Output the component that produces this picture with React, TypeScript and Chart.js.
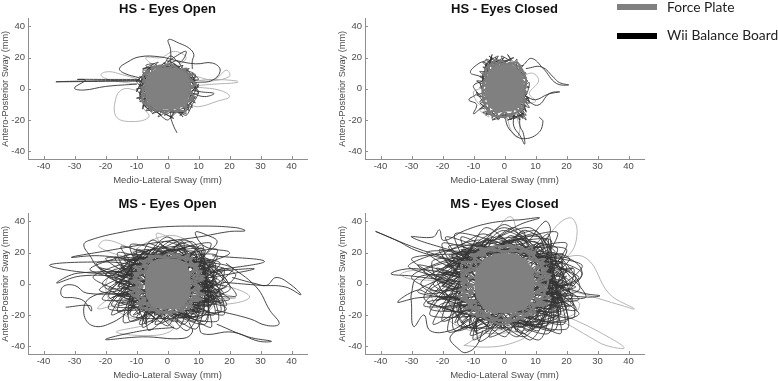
import React, { useEffect, useRef } from "react";
import { Chart, registerables } from "chart.js";

Chart.register(...registerables);

type P = number[];

const xTickValues = [-40, -30, -20, -10, 0, 10, 20, 30, 40];
const yTickValues = [-40, -20, 0, 20, 40];
const xAxisLabel = "Medio-Lateral Sway (mm)";
const yAxisLabel = "Antero-Posterior Sway (mm)";
const legendLabels = ["Force Plate", "Wii Balance Board"];

/* ---------- HS - Eyes Open ---------- */
const hsOpenCore: P = [-2.5,10.5, 2.5,10.5, 4,7.5, -4.5,7.5, -5.2,4, 5,4, 5.4,0, -5.4,0, -5.2,-4, 5,-4, 4,-7.5, -4,-7.5, -2.5,-10.5, 2.5,-10.5, 5,-8.5, 5.8,-4, 6,0, 5.8,4, 5,8.5, 2.5,11, -2.5,11, -5,8.5, -5.8,4, -6,0, -5.8,-4, -5,-8.5, -2.5,-11];
const hsOpenFuzz: P = [-5,13, -2,15, 0,13, 2,15, 4,12, 6,13, 5,10, 8,9, 6,7, 8,5, 6.5,4, 8,1, 6.5,0, 8,-3, 6.5,-4, 8,-7, 5.5,-8, 6,-12, 4,-11, 3,-15, 1,-13, -1,-16, -2,-13, -4,-14, -5,-10, -7,-10, -6.5,-6, -8,-4, -6.5,-2, -8.5,1, -6.5,2, -8,5, -6.5,6, -7,10, -5,10, -5,14, -2,14, 1,16, 3,13, 6,11, 7,7, 9,3, 7,-1, 8.5,-5, 6,-9, 6,-14, 2,-14, -1,-14, -5,-13, -8,-8, -8,-2, -7,4, -8,8, -6,12];
const hsOpenWiiRing: P = [-5,12, -7,15, -4,16, -3,13, -1,17, -2,14, 1,15, 0,18, 3,15, 2,13, 5,15, 4,12, 7,13, 6,11, 8,9, 6,8, 9,7, 8,10, 10,6, 7,5, 9,3, 8,6, 10,1, 7,2, 9,-1, 8,2, 10,-3, 7,-3, 9,-6, 7,-5, 9,-9, 7,-7, 8,-12, 6,-10, 7,-14, 5,-11, 6,-16, 3,-13, 5,-18, 3,-15, 1,-19, 2,-14, -1,-17, 0,-14, -3,-18, -2,-14, -5,-16, -3,-13, -7,-14, -5,-11, -8,-11, -6,-9, -9,-8, -7,-6, -10,-6, -7,-4, -9,-2, -8,-5, -10,0, -7,0, -9,3, -8,0, -10,5, -7,4, -9,8, -7,6, -8,11, -6,8, -6,13, -8,13, -4,14];
const hsOpenWiiLap: P = [-8,9, -5,15, -9,4, -6,13, -10,-2, -7,10, -9,-7, -6,3, -8,-13, -7,-4, -5,-15, -8,-9, -2,-17, -5,-12, 2,-19, -2,-14, 5,-15, 1,-15, 7,-12, 4,-17, 9,-5, 6,-13, 8,-1, 7,-8, 10,3, 7,-3, 8,8, 9,0, 6,13, 9,5, 2,16, 6,10, -1,16, 4,14, -5,14, 0,14, -8,12, -3,17, -10,5, -6,11, -9,0, -7,7, -9,-4, -7,-8, -7,-12, -4,-14, 0,-20, 3,-14, 6,-17, 8,-10, 10,-2, 8,4, 9,9, 5,13, 3,18, -1,14];
const hsOpenWiiSpike: P = [-8,5, -20,4.8, -36,4.5, -20,5.2, -9,5.2];
const hsOpenWiiHook: P = [-9,6, -20,6, -29,6, -26.5,5.5, -30,0.5, -27,-0.8, -20,1.5, -10,3];
const hsOpenWiiTop: P = [1,15, 1,25, 0.3,31.5, 4,29, 7,26, 8.5,22, 8,18, 8,13];
const hsOpenWiiTopInner: P = [0,17, 2,20, 6,24, 4,17, 1,21, -1,16];
const hsOpenWiiArc: P = [-9,7, -14,10, -15.5,13, -13,17, -9,20.5, -2.5,20.5, 3,18, 9,16, 14.5,16.5, 17,12, 14.5,5.5, 9,4];
const hsOpenWiiTail: P = [1,-15, 1,-18, 2,-24, 3,-28];
const hsOpenWiiRight: P = [8,-3, 12,-5, 15,-3, 11,-2, 8,-1];
const hsOpenLightA: P = [-10,6.5, -14.5,9, -19,11, -21.5,9, -19,6, -10,3];
const hsOpenLightB: P = [-10,-1, -14,0, -16.5,-5, -16.5,-18, -11,-21, -6,-18, -8,-12];
const hsOpenLightC: P = [7,-10, 10,-11.5, 16,-8, 20,-5, 17,-1, 10,1];
const hsOpenLightD: P = [9,5, 14,6, 22.5,5, 22.5,4, 15,3, 9,2];
const hsOpenLightE: P = [9,8, 15,6, 19,12, 20,8, 14,5, 8,6];
const hsOpenLightF: P = [-4,14, -7,20, -2,20, 2,24, 6,20, 3,14];

/* ---------- HS - Eyes Closed ---------- */
const hsClosedCore: P = [-2.5,12, 2,12, 3.5,9, -4,9, -4.4,6, 4,6, 4.4,3, -4.6,3, -4.6,0, 4.6,0, 4.4,-3, -4.6,-3, -4.4,-6, 4,-6, 3.5,-9, -3.5,-9, -2,-12, 2,-12, 4,-10, 4.8,-5, 5,0, 4.8,5, 4,10, 2,13, -2,13, -4,10, -4.8,5, -5,0, -4.8,-5, -4,-10, -2,-13];
const hsClosedFuzz: P = [-4,14, -2,17, 0,15, 2,17, 4,14, 5,15, 5,10, 6.5,8, 5.5,6, 7,3, 5.5,1, 7,-2, 5.5,-4, 7,-8, 5,-9, 5,-14, 3,-13, 2,-18, 0,-15, -2,-18, -3,-14, -5,-15, -5,-10, -7,-8, -5.5,-5, -7,-2, -5.5,1, -7,4, -5.5,6, -7,10, -5,10, -5,15, -3,15, -1,18, 1,15, 4,17, 6,11, 7,5, 6,-5, 6,-12, 3,-16, 0,-18, -4,-17, -6,-12, -7,-5, -7,2, -6,8, -6,13, -3,18];
const hsClosedWiiRing: P = [-4,15, -6,19, -3,17, -5,21, -2,17, -3,20, 0,16, -1,21, 2,18, 1,22, 3,17, 4,19, 4,14, 6,15, 5,12, 7,10, 5.5,8, 7.5,5, 5.5,3, 8,1, 5.5,0, 7,-3, 5.5,-3, 8,-6, 5.5,-6, 7,-5, 8,-9, 5.5,-8, 7,-11, 5,-10, 7,-14, 5,-12, 7,-17, 4,-14, 6,-19, 4,-16, 5,-20, 3,-17, 2,-20, 1,-16, 0,-19, -1,-16, -2,-20, -3,-15, -4,-19, -4,-14, -6,-17, -5,-12, -8,-13, -6,-10, -8,-8, -6,-6, -9,-4, -6,-2, -8,1, -6,2, -9,5, -6,5, -8,8, -6,8, -8,11, -5,11, -7,14, -5,13, -7,17, -4,15];
const hsClosedWiiLap: P = [-5,18, -3,14, -6,16, -2,21, -5,14, -4,20, -6,14, -3,18, -1,15, -4,17, 1,18, -2,16, 3,20, 0,16, 6,12, 3,16, 7,7, 5,11, 6,2, 8,4, 7,-4, 6,-2, 8,-8, 6,-5, 7,-7, 5,-9, 8,-12, 6,-7, 7,-15, 6,-10, 6,-18, 5,-13, 7,-20, 4,-15, 3,-19, 6,-16, 1,-20, 4,-18, -1,-17, 2,-16, -4,-20, 0,-15, -7,-15, -3,-17, -8,-9, -5,-14, -9,-2, -6,-7, -8,4, -7,0, -7,10, -7,5, -6,16, -6,9, -4,22, -5,12, 0,20, -4,16];
const hsClosedWiiLeftTop: P = [-6,6, -8,8, -11,10.5, -8.5,16, -6,18];
const hsClosedWiiLeft: P = [-7,5, -10,2, -9,-3, -11.5,-7, -9,-10, -10,-16, -8,-13, -6,-10];
const hsClosedWiiRightTop: P = [7,13, 12,14, 16,7, 17.7,4, 20.7,2.5, 16.7,3.5, 12.5,13, 8.7,19.5, 6,15];
const hsClosedWiiRightMid: P = [7,-7, 10.8,-10.5, 14.5,-3, 17.8,-2, 14,-3.5, 10,-7, 7,-5];
const hsClosedWiiBottom: P = [0.6,-15, 0.6,-22, 2.8,-28.6, 6,-32, 10.8,-28.6, 12.4,-21, 11.3,-18.4];
const hsClosedWiiBottomB: P = [3,-17, 3,-24, 5,-30, 6.5,-35.5, 6,-28, 5,-24, 5,-17];
const hsClosedLightA: P = [-8,0, -10,-2, -9,-8, -7,-12, -5,-18, -8,-14];
const hsClosedLightB: P = [5,7, 9,10, 11,5, 8,-3, 10,-8, 6,-10];
const hsClosedLightC: P = [1,-19, 2,-26, 4,-31, 5,-25, 4,-19];

/* ---------- MS - Eyes Open ---------- */
const msOpenCore: P = [-2.5,13.5, 3,13.5, 4.5,10, -4,10, -5,6.5, 5.5,6.5, 5.8,3, -5.3,3, -5.4,-0.5, 6,-0.5, 5.8,-4, -5.2,-4, -4.6,-7.5, 5.4,-7.5, 4.5,-11, -3.5,-11, -2,-13.5, 3,-13.5, 4.5,-12, 6,-7, 6.3,0, 6,7, 4.5,12, 3,13.5, -3,13.5, -4.5,12, -5.8,7, -6,0, -5.8,-7, -4.5,-12, -2.5,-13.5];
const msOpenFuzz: P = [-6,15, -3,18, 0,16, 3,19, 6,15, 8,17, 7,12, 10,13, 8,8, 11,8, 8,4, 12,3, 8,0, 11,-3, 8,-4, 12,-7, 8,-8, 10,-11, 7,-11, 8,-15, 5,-13, 5,-18, 2,-15, 1,-20, -1,-16, -3,-19, -4,-15, -7,-17, -6,-12, -10,-13, -7,-9, -11,-8, -8,-5, -12,-3, -8,-1, -12,2, -8,3, -11,7, -7,7, -11,11, -6,11, -9,15, -5,14, -6,18, -2,17, 1,20, 4,16, 7,19, 6,13, 10,10, 7,6, 12,5, 7,1, 10,-1, 7,-6, 11,-10, 6,-10, 7,-16, 3,-15, 0,-19, -4,-17, -9,-15, -7,-10, -12,-6, -8,-2, -11,4, -7,9, -8,14, -4,18, -1,17, 3,17, 6,17, 9,11, 10,6, 9,2, 10,-5, 9,-9, 6,-14, 3,-18, -2,-18, -5,-15, -8,-12, -10,-8, -10,-1, -10,5, -9,9, -7,14];
const msOpenWiiStar: P = [-15,12, 10,-22, 18,10, -12,-24, -5,28, 14,-14, -20,6, 16,18, -8,-28, 4,26, 20,-4, -18,-14, 8,24, 12,-26, -22,10, 18,-12, -10,22, 6,-30, 15,14, -16,-18, 0,30, 17,-18, -24,4, 12,22, -4,-26, 22,6, -14,18, 10,-18, -19,-8, 6,28, 18,-20, -20,16, 14,8, -10,-22, 9,20, 3,-29, -16,20, 20,-10, -22,-4, 16,22, -6,-30, -2,24, 19,-14, -17,8, 12,-24, 8,27, -21,-10, 19,2, -12,25, 5,-26, 13,16, -18,-20, 2,28, 15,-20, -23,13, 21,10, -9,-26, 11,25, 8,-22, -15,24, 18,-6, -19,-16, 3,22, 14,-28, -13,14, 17,13, -14,-25, -1,27, 22,-8, -25,9, 10,23, 9,-29, -17,17, 19,-16, -12,-20, 6,19, 16,-24, -21,0, 14,26, -7,-24];
const msOpenWiiStarB: P = [-13,6, 12,-12, 14,11, -10,-16, -8,19, 13,-4, -16,-1, 11,15, -4,-20, 2,19, 15,3, -14,-9, 6,17, 9,-18, -15,12, 15,-8, -9,13, 4,-22, 12,6, -12,-14, -3,21, 13,-14, -17,3, 10,11, 1,-21, 16,9, -11,16, 7,-13, -15,-5, 4,22, 14,-11, -13,10, 11,-1, -8,-18, 7,14, -1,-23, -12,15, 17,-5, -16,6, 9,18, -6,-15, -5,22, 16,-12, -11,-11, 11,-20, 8,21, -17,-6, 17,1, -7,17, 3,-18, 12,12];
const msOpenWiiCurl: P = [-7,16, -11,20, -6,22, -9,18, -3,24, -5,19, 0,21, -2,25, 3,19, 2,24, 6,20, 4,17, 9,21, 7,16, 12,19, 9,14, 14,15, 10,12, 15,11, 9,9, 16,7, 11,9, 15,4, 9,5, 16,1, 10,2, 15,-2, 9,-3, 16,-6, 10,-5, 15,-10, 10,-9, 14,-14, 8,-12, 13,-18, 8,-15, 10,-21, 6,-17, 7,-23, 4,-18, 3,-25, 2,-18, -1,-23, -1,-17, -5,-25, -4,-18, -8,-23, -6,-16, -11,-20, -8,-14, -13,-17, -9,-11, -15,-12, -10,-8, -16,-8, -9,-5, -15,-3, -10,-1, -17,1, -10,2, -16,6, -9,6, -15,10, -10,9, -14,15, -8,12, -11,18, -6,15];
const msOpenWiiLap: P = [-12,10, -8,20, -14,4, -10,16, -16,-2, -11,12, -13,-8, -9,3, -12,-14, -10,-6, -9,-20, -12,-10, -4,-22, -8,-16, 2,-24, -3,-17, 7,-20, 1,-19, 11,-16, 5,-22, 14,-8, 8,-18, 12,-2, 10,-11, 16,4, 10,-5, 11,10, 14,0, 8,17, 13,8, 3,22, 9,13, -2,20, 6,23, -7,19, 0,18, -12,15, -4,23, -15,8, -13,13, -18,4, -12,6, -19,-3, -11,-3, -18,-9, -13,-5, -16,-14, -11,-12, -13,-20, -10,-15, -7,-26, -7,-18, 0,-27, 3,-20, 9,-24, 11,-13, 17,-11, 12,-6, 19,-2, 12,2, 18,8, 12,7, 15,15, 11,15, 11,23, 6,18, 5,27, 1,22, -6,26];
const msOpenWiiTopA: P = [-15,5, -22,10, -25,18, -27,25, -25,28, -15,33, -5,36, 10,37, 22,36, 25,34, 20,33.5, 10,30, -5,26, -20,21, -31,17, -22,18, -10,15];
const msOpenWiiLeftA: P = [-10,8, -25,7, -38,12, -20,14, -10,12];
const msOpenWiiLeftB: P = [-15,8, -28,7, -32,5, -35.7,0.5, -28,5, -14,5];
const msOpenWiiLoop: P = [-12,-6, -26,-6, -30,-1, -33.8,-2, -34,-8, -30,-9, -27,-11, -24.6,-17.5, -25,-14, -32.7,-15];
const msOpenWiiLowLeft: P = [-11,-15, -17.6,-24.6, -24,-27, -27,-19, -25,-9, -15,-4];
const msOpenWiiBottom: P = [7,-25, 8,-31, 5,-35, -8,-34, -20,-35.7, -8,-30, 2,-28];
const msOpenWiiBottomRight: P = [10,-25, 11.4,-32, 21,-31, 29.4,-36.8, 33.5,-36.8, 26,-34, 16,-26];
const msOpenWiiRightLow: P = [15.7,-17, 26.5,-22.4, 32,-26.7, 36,-25.6, 33,-17, 28.6,-2, 19,13];
const msOpenWiiTail: P = [21,4, 28.6,0, 32,-1, 35,4, 39.4,0, 43,-7, 38,-2, 30,-1, 18,1];
const msOpenWiiRightA: P = [14.6,18, 31.3,14.3, 15.7,8.5, 28,9.6, 14,4];
const msOpenWiiTopRight: P = [13,20, 16,27, 13,31, 9,33, 12,24, 20,20, 14,14];
const msOpenLightA: P = [-5,18, -12,23, -20,28, -22,23.5, -10,15];
const msOpenLightB: P = [-10,-6, -17.6,-8.5, -22.5,-16, -14,-12, -8,-10];
const msOpenLightC: P = [-8,-27, -16.5,-31, -3.6,-33, 2,-28, -4,-20];
const msOpenLightD: P = [0,18, -3.6,32, 1.7,28, 5,20];
const msOpenLightE: P = [12,-1, 20,-2, 26.5,-8.5, 19,-13, 12,-10, 22,-9, 14,-5];
const msOpenLightF: P = [-15,15, -5,28, 4,30, 12,16, 18,3, 12,-20, 2,-24, -14,-20, -20,-2, -15,15];

/* ---------- MS - Eyes Closed ---------- */
const msClosedCore: P = [-3,17, 3.5,17, 5.5,13.5, -5,13.5, -6.3,10, 6.8,10, 7.6,6.5, -7,6.5, -7.4,3, 7.9,3, 8,-0.5, -7.5,-0.5, -7.4,-4, 7.8,-4, 7.3,-7.5, -7,-7.5, -6.2,-11, 6.3,-11, 4.5,-14.5, -4,-14.5, -1,-16.5, 2,-16.5, 6,-14, 8,-8, 8.5,0, 8,8, 6,14, 2,17, -2,17, -6,14, -8,8, -8.5,0, -8,-8, -6,-14, -3,-17];
const msClosedFuzz: P = [-8,18, -4,22, 0,20, 4,24, 8,19, 10,21, 9,15, 13,16, 10,10, 14,10, 10,5, 15,4, 10,0, 14,-4, 10,-5, 15,-9, 10,-10, 13,-14, 9,-14, 10,-19, 6,-16, 6,-23, 3,-19, 1,-25, -1,-20, -4,-24, -5,-19, -9,-21, -8,-15, -13,-16, -9,-11, -14,-10, -10,-6, -15,-4, -10,-1, -15,3, -10,4, -14,9, -9,9, -14,14, -8,14, -11,19, -6,18, -8,23, -3,21, 1,25, 5,20, 9,24, 8,16, 13,13, 9,8, 15,6, 9,1, 13,-1, 9,-8, 14,-13, 8,-13, 9,-20, 4,-19, 0,-24, -5,-21, -11,-19, -9,-13, -15,-8, -10,-3, -14,5, -9,11, -10,18, -5,23, -1,21, 4,21, 8,21, 11,14, 13,8, 11,2, 13,-6, 11,-11, 8,-18, 4,-23, -3,-23, -6,-19, -10,-15, -13,-10, -13,-1, -13,6, -11,11, -9,18, -3,24, 2,24, 6,23, 12,12, 14,1, 12,-9, 7,-20, -1,-26, -8,-20, -13,-6, -14,12];
const msClosedWiiStar: P = [-18,16, 12,-28, 22,10, -16,-30, -6,36, 18,-20, -26,8, 20,22, -10,-36, 6,34, 24,-4, -24,-16, 10,32, 14,-32, -28,12, 22,-14, -14,30, 8,-36, 18,18, -20,-24, 0,38, 20,-24, -30,4, 15,28, -5,-34, 25,7, -18,24, 13,-25, -26,-9, 8,36, 22,-22, -25,20, 18,10, -14,-28, 12,26, 4,-34, -20,26, 24,-10, -28,-5, 20,26, -8,-37, -3,30, 23,-17, -22,10, 16,-30, 10,34, -26,-14, 23,3, -16,32, 6,-32, 16,20, -23,-26, 3,36, 19,-26, -30,16, 25,12, -11,-33, 14,32, 10,-28, -19,30, 22,-8, -24,-20, 4,28, 18,-32, -17,18, 21,16, -18,-31, -1,34, 26,-9, -31,11, 13,29, 11,-36, -21,22, 24,-19, -15,-26, 8,24, 20,-29, -27,0, 17,33, -9,-30, -23,15, 20,2, -3,-28];
const msClosedWiiStarB: P = [-16,8, 15,-16, 18,13, -13,-21, -10,25, 16,-5, -20,-1, 14,19, -5,-26, 3,25, 19,4, -18,-12, 8,23, 12,-23, -19,15, 19,-10, -12,17, 5,-28, 15,8, -15,-18, -4,28, 17,-18, -22,4, 13,14, 1,-27, 20,11, -14,21, 9,-17, -19,-6, 5,29, 18,-14, -17,13, 14,-1, -10,-24, 9,18, -1,-29, -15,20, 21,-6, -20,8, 12,23, -8,-20, -6,28, 20,-16, -14,-14, 14,-26, 10,27, -22,-8, 21,1, -9,22, 4,-24, 15,16, -18,18, 19,-3, -11,-28, 2,31, 17,-22, -21,-14, 16,5, -7,26, 7,-30, 18,-8];
const msClosedWiiCurl: P = [-9,20, -14,25, -8,28, -11,22, -4,30, -6,24, 0,26, -2,31, 4,24, 3,30, 8,25, 5,21, 11,26, 9,20, 15,24, 11,17, 17,19, 12,15, 19,14, 12,11, 20,9, 14,11, 19,5, 11,6, 20,1, 12,2, 19,-2, 11,-4, 20,-8, 12,-6, 19,-12, 12,-11, 17,-17, 10,-15, 16,-22, 10,-18, 12,-26, 8,-21, 9,-29, 5,-22, 4,-31, 2,-22, -1,-29, -1,-21, -6,-31, -5,-22, -10,-29, -8,-20, -14,-25, -10,-17, -16,-21, -11,-14, -19,-15, -12,-10, -20,-10, -11,-6, -19,-4, -12,-1, -21,1, -12,2, -20,7, -11,7, -19,12, -12,11, -17,18, -10,15, -14,22, -8,19];
const msClosedWiiLap: P = [-15,12, -10,25, -17,5, -12,20, -20,-2, -13,15, -16,-10, -11,4, -15,-17, -12,-7, -11,-25, -15,-12, -5,-28, -10,-20, 2,-30, -4,-21, 9,-25, 1,-24, 14,-20, 6,-27, 17,-10, 10,-22, 15,-2, 12,-14, 20,5, 12,-6, 14,12, 17,0, 10,21, 16,10, 4,27, 11,16, -2,25, 7,29, -9,24, 0,22, -15,19, -5,29, -19,10, -16,16, -22,5, -15,7, -24,-4, -14,-4, -22,-11, -16,-6, -20,-17, -14,-15, -16,-25, -12,-19, -9,-32, -9,-22, 0,-34, 4,-25, 11,-30, 14,-16, 21,-14, 15,-7, 23,-2, 15,2, 22,10, 15,9, 19,19, 14,19, 14,29, 8,22, 6,34, 1,27, -7,32, -13,26, -20,18, -17,9, -23,0, -18,-8, -25,-12, -17,-17, -12,-28, -3,-24, 6,-34, 12,-24, 18,-19, 17,-5, 24,4, 16,13, 17,23, 9,27, 0,36, -8,28];
const msClosedWiiCorner: P = [-12,10, -20,17, -30,24, -41.5,33.5, -35,28, -28,21, -15,14];
const msClosedWiiTopLeft: P = [-15,20, -30,30, -23,30, -21,34.6, -19.7,27.8, -13,34, -5.8,38.5, 1.7,40.6, 5,41, 11.3,42.3, 5,38, -2,30];
const msClosedWiiLeftA: P = [-15,5, -24,8.5, -31.4,9.6, -36.6,6.4, -30,5, -18,2];
const msClosedWiiLeftB: P = [-15,-3, -24,-6.4, -28,-4, -34.5,-11.8, -28,-9, -16,-8];
const msClosedWiiLeftC: P = [-18,6, -28,4, -30,-6, -30,-12.8, -29.3,-27.4, -26,-20, -24,-30, -17.5,-30, -12,-24];
const msClosedWiiBottomA: P = [-10,-25, -17.5,-34, -14.3,-42.7, -12.2,-44, -9,-39.5, -7,-30];
const msClosedWiiTopRight: P = [9,19, 14.6,32, 13.6,40, 11,36, 8,28, 3,22];
const msClosedWiiRightA: P = [14.5,17, 21,16, 25,7.5, 22,0, 14,-1];
const msClosedWiiRightB: P = [18.8,-2, 26.3,-6.4, 30.8,-7.7, 26,-8.5, 16,-6];
const msClosedLightA: P = [16.7,16.5, 26.3,16.5, 33.8,-6.4, 41.8,-16, 38,-14, 25,-6.4, 18,-3];
const msClosedLightB: P = [9,19, 14.6,32, 18.8,40.6, 22,41.7, 23.4,32, 21,19, 15,14];
const msClosedLightC: P = [15,-17, 23,-23.5, 31.6,-32, 38.6,-41, 32.7,-39.5, 27.4,-34, 20,-25.6, 13,-20];
const msClosedLightD: P = [-13,-39.5, -5.8,-40.6, 1.7,-38.5, 7,-33, -4,-30, -13,-39.5];
const msClosedLightE: P = [-16,2, -30.4,3.2, -33.5,6.4, -26,9, -14,6];
const msClosedLightF: P = [-20,10, -4,32, 2,43, 5,30, 20,8, 20,-18, 6,-30, -14,-28, -24,-6, -20,10];
const msClosedLightG: P = [16,-10, 24,-12, 22,-20, 14,-22];

const toPts = (a: P) => {
  const out: { x: number; y: number }[] = [];
  for (let i = 0; i + 1 < a.length; i += 2) out.push({ x: a[i], y: a[i + 1] });
  return out;
};

const GREY = "#808080";
const FUZZ = "#7a7a7a";
const LIGHT = "#ababab";
const DARK = "#333333";
const INK = "#4d4d4d";
const AXIS = "#8e8e8e";
const FONT = "'Liberation Sans', Arial, sans-serif";

const inwardTicks = {
  id: "inwardTicks",
  afterDatasetsDraw(chart: any) {
    const { ctx, chartArea, scales } = chart;
    ctx.save();
    ctx.strokeStyle = AXIS;
    ctx.lineWidth = 1;
    ctx.beginPath();
    for (const v of xTickValues) {
      const px = Math.round(scales.x.getPixelForValue(v)) + 0.5;
      ctx.moveTo(px, chartArea.bottom);
      ctx.lineTo(px, chartArea.bottom - 3);
    }
    for (const v of yTickValues) {
      const py = Math.round(scales.y.getPixelForValue(v)) + 0.5;
      ctx.moveTo(chartArea.left, py);
      ctx.lineTo(chartArea.left + 3, py);
    }
    ctx.stroke();
    ctx.restore();
  },
};

interface PanelProps {
  title: string;
  left: number;
  top: number;
  core: P;
  fuzz: P;
  light: P[];
  scribble: P[];
  dark: P[];
}

const W = 315;
const H = 186;

function Panel({ title, left, top, core, fuzz, light, scribble, dark }: PanelProps) {
  const ref = useRef<HTMLCanvasElement>(null);
  useEffect(() => {
    if (!ref.current) return;
    const line = (label: string, pts: P, color: string, width: number, tension: number) => ({
      label,
      data: toPts(pts),
      showLine: true,
      borderColor: color,
      backgroundColor: color,
      borderWidth: width,
      pointRadius: 0,
      tension,
      borderJoinStyle: "round" as const,
      borderCapStyle: "round" as const,
    });
    const chart = new Chart(ref.current, {
      type: "scatter",
      data: {
        datasets: [
          line(legendLabels[0], core, GREY, 8, 0),
          line(legendLabels[0], fuzz, FUZZ, 2.2, 0.2),
          ...scribble.map((a) => line(legendLabels[1], a, DARK, 0.85, 0.28)),
          ...dark.map((a) => line(legendLabels[1], a, DARK, 0.9, 0.42)),
          ...light.map((a) => line(legendLabels[0], a, LIGHT, 0.9, 0.4)),
        ],
      },
      options: {
        responsive: false,
        animation: false,
        layout: { padding: { right: 6, left: 0, top: 0, bottom: 0 } },
        plugins: {
          legend: { display: false },
          tooltip: { enabled: false },
          title: {
            display: true,
            text: title,
            fullSize: false,
            color: "#111",
            font: { family: FONT, size: 13, weight: "bold" },
            padding: { top: 1.5, bottom: 1.5 },
          },
        },
        scales: {
          x: {
            type: "linear",
            min: -45,
            max: 45,
            afterBuildTicks: (s: any) => { s.ticks = xTickValues.map((value) => ({ value })); },
            afterFit: (s: any) => { s.height = 27; },
            border: { color: AXIS, width: 1 },
            grid: { display: false, drawTicks: false },
            ticks: { autoSkip: false, maxRotation: 0, padding: 2, color: INK, font: { family: FONT, size: 9.5 } },
            title: { display: true, text: xAxisLabel, color: INK, padding: 0, font: { family: FONT, size: 9.5 } },
          },
          y: {
            type: "linear",
            min: -45,
            max: 45,
            afterBuildTicks: (s: any) => { s.ticks = yTickValues.map((value) => ({ value })); },
            afterFit: (s: any) => { s.width = 30; },
            border: { color: AXIS, width: 1 },
            grid: { display: false, drawTicks: false },
            ticks: { autoSkip: false, padding: 3, color: INK, font: { family: FONT, size: 9.5 } },
            title: { display: true, text: yAxisLabel, color: INK, padding: { top: 2, bottom: 0 }, font: { family: FONT, size: 9.2 } },
          },
        },
      },
      plugins: [inwardTicks],
    } as any);
    return () => chart.destroy();
  }, []);
  return (
    <canvas
      ref={ref}
      width={W}
      height={H}
      style={{ position: "absolute", left, top, width: W, height: H, filter: "blur(0.4px)" }}
    />
  );
}

const legendText: React.CSSProperties = {
  position: "absolute",
  left: 667,
  fontFamily: "Lato, sans-serif",
  fontSize: 13.8,
  lineHeight: "16px",
  color: "#222",
  whiteSpace: "nowrap",
};

export default function App() {
  useEffect(() => {
    document.body.style.margin = "0";
    document.body.style.background = "#fff";
  }, []);
  return (
    <div style={{ position: "relative", width: 778, height: 381, overflow: "hidden", background: "#fff" }}>
      <Panel
        title="HS - Eyes Open"
        left={-2}
        top={0}
        core={hsOpenCore}
        fuzz={hsOpenFuzz}
        light={[hsOpenLightA, hsOpenLightB, hsOpenLightC, hsOpenLightD, hsOpenLightE, hsOpenLightF]}
        scribble={[hsOpenWiiRing, hsOpenWiiLap]}
        dark={[hsOpenWiiSpike, hsOpenWiiHook, hsOpenWiiTop, hsOpenWiiTopInner, hsOpenWiiArc, hsOpenWiiTail, hsOpenWiiRight]}
      />
      <Panel
        title="HS - Eyes Closed"
        left={335}
        top={0}
        core={hsClosedCore}
        fuzz={hsClosedFuzz}
        light={[hsClosedLightA, hsClosedLightB, hsClosedLightC]}
        scribble={[hsClosedWiiRing, hsClosedWiiLap]}
        dark={[hsClosedWiiLeftTop, hsClosedWiiLeft, hsClosedWiiRightTop, hsClosedWiiRightMid, hsClosedWiiBottom, hsClosedWiiBottomB]}
      />
      <Panel
        title="MS - Eyes Open"
        left={-2}
        top={195}
        core={msOpenCore}
        fuzz={msOpenFuzz}
        light={[msOpenLightA, msOpenLightB, msOpenLightC, msOpenLightD, msOpenLightE, msOpenLightF]}
        scribble={[msOpenWiiStar, msOpenWiiStarB, msOpenWiiCurl, msOpenWiiLap]}
        dark={[msOpenWiiTopA, msOpenWiiLeftA, msOpenWiiLeftB, msOpenWiiLoop, msOpenWiiLowLeft, msOpenWiiBottom, msOpenWiiBottomRight, msOpenWiiRightLow, msOpenWiiTail, msOpenWiiRightA, msOpenWiiTopRight]}
      />
      <Panel
        title="MS - Eyes Closed"
        left={335}
        top={195}
        core={msClosedCore}
        fuzz={msClosedFuzz}
        light={[msClosedLightA, msClosedLightB, msClosedLightC, msClosedLightD, msClosedLightE, msClosedLightF, msClosedLightG]}
        scribble={[msClosedWiiStar, msClosedWiiStarB, msClosedWiiCurl, msClosedWiiLap]}
        dark={[msClosedWiiCorner, msClosedWiiTopLeft, msClosedWiiLeftA, msClosedWiiLeftB, msClosedWiiLeftC, msClosedWiiBottomA, msClosedWiiTopRight, msClosedWiiRightA, msClosedWiiRightB]}
      />
      <div style={{ position: "absolute", left: 617, top: 4, width: 40, height: 6, background: GREY }} />
      <div style={{ ...legendText, top: -1 }}>{legendLabels[0]}</div>
      <div style={{ position: "absolute", left: 617, top: 33, width: 40, height: 6, background: "#000" }} />
      <div style={{ ...legendText, top: 27 }}>{legendLabels[1]}</div>
    </div>
  );
}
